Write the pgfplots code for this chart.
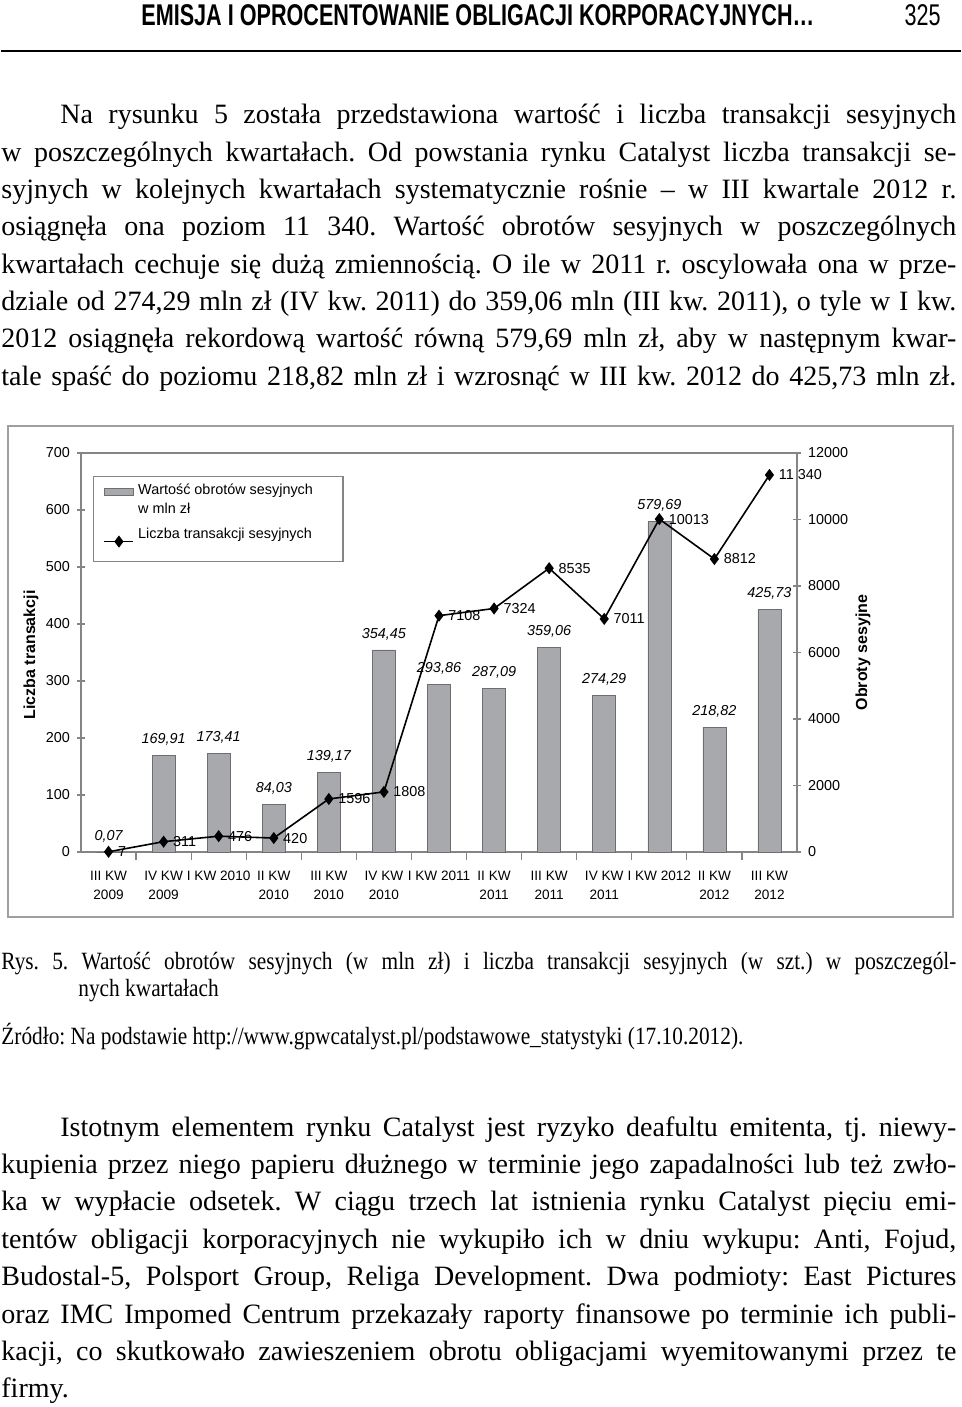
\documentclass[border=0pt]{standalone}
\usepackage{fontspec}
\setmainfont{Liberation Serif}
\setsansfont{Liberation Sans}
\newfontfamily\capfont[FakeStretch=0.86]{Liberation Serif}
\newfontfamily\headfont[FakeStretch=0.72]{Liberation Sans}
\usepackage{pgfplots}
\usepackage{pgfplotstable}
\pgfplotsset{compat=1.18}
\frenchspacing

\definecolor{barfill}{HTML}{A7A9AC}
\definecolor{baredge}{HTML}{6D6E71}
\definecolor{axisgray}{HTML}{858585}

\newcommand\chartfont{\sffamily\fontsize{7.2}{9.5}\selectfont}
\newcommand\xlabfont{\sffamily\fontsize{6.8}{9.5}\selectfont}
\newcommand\labfont{\sffamily\bfseries\fontsize{8}{9}\selectfont}
\newcommand\bodyfont{\rmfamily\fontsize{14}{16}\selectfont}
\newcommand\capsize{\capfont\fontsize{12.4}{14}\selectfont}
\newcommand\jline[4]{\node[anchor=base west, inner sep=0pt, font=\bodyfont] at (#1,#2) {\makebox[#3][s]{#4}};}

% wartosc obrotow sesyjnych, mln zl
\pgfplotstableread{
x obroty lab
0 0.07 0,07
1 169.91 169,91
2 173.41 173,41
3 84.03 84,03
4 139.17 139,17
5 354.45 354,45
6 293.86 293,86
7 287.09 287,09
8 359.06 359,06
9 274.29 274,29
10 579.69 579,69
11 218.82 218,82
12 425.73 425,73
}\obroty

% liczba transakcji sesyjnych
\pgfplotstableread{
x liczba lab
0 7 7
1 311 311
2 476 476
3 420 420
4 1596 1596
5 1808 1808
6 7108 7108
7 7324 7324
8 8535 8535
9 7011 7011
10 10013 10013
11 8812 8812
12 11340 11~340
}\liczba

\pgfplotsset{
  common/.style={
    at={(40pt,-426pt)}, anchor=south west,
    scale only axis, width=358pt, height=199.5pt,
    xmin=-0.5, xmax=12.5,
    tick align=center, major tick length=4pt, minor tick length=4pt,
    axis line style={axisgray, line width=0.6pt},
    every tick/.style={axisgray, line width=0.6pt},
    tick label style={font=\chartfont},
    /pgf/number format/assume math mode=true,
    /pgf/number format/1000 sep={},
    scaled y ticks=false,
    clip=false,
  },
  barlegimg/.style={legend image code/.code={\draw[##1] (0pt,2.6pt) rectangle (14.5pt,6.1pt);}},
  linelegimg/.style={legend image code/.code={\draw[mark repeat=2, mark phase=2, ##1] plot coordinates {(0pt,0pt) (7.25pt,0pt) (14.5pt,0pt)};}},
}

\begin{document}
\begin{tikzpicture}
\begin{scope}[x=0.5pt, y=-0.5pt]
  \path[fill=white] (0,0) rectangle (960,1407);
  % naglowek strony
  \node[anchor=base west, inner sep=0pt] at (140,26) {\headfont\bfseries\fontsize{15}{17}\selectfont EMISJA I OPROCENTOWANIE OBLIGACJI KORPORACYJNYCH…};
  \node[anchor=base east, inner sep=0pt] at (940,26) {\headfont\fontsize{15}{17}\selectfont 325};
  \draw[line width=1pt] (0,51) -- (960,51);
  % tekst nad wykresem
  \jline{59}{124}{448pt}{Na rysunku 5 została przedstawiona wartość i liczba transakcji sesyjnych}
  \jline{0}{161.3}{477.5pt}{w poszczególnych kwartałach. Od powstania rynku Catalyst liczba transakcji se-}
  \jline{0}{198.6}{477.5pt}{syjnych w kolejnych kwartałach systematycznie rośnie – w III kwartale 2012 r.}
  \jline{0}{235.9}{477.5pt}{osiągnęła ona poziom 11 340. Wartość obrotów sesyjnych w poszczególnych}
  \jline{0}{273.2}{477.5pt}{kwartałach cechuje się dużą zmiennością. O ile w 2011 r. oscylowała ona w prze-}
  \jline{0}{310.5}{477.5pt}{dziale od 274,29 mln zł (IV kw. 2011) do 359,06 mln (III kw. 2011), o tyle w I kw.}
  \jline{0}{347.8}{477.5pt}{2012 osiągnęła rekordową wartość równą 579,69 mln zł, aby w następnym kwar-}
  \jline{0}{385.1}{477.5pt}{tale spaść do poziomu 218,82 mln zł i wzrosnąć w III kw. 2012 do 425,73 mln zł.}
  % ramka wykresu
  \draw[color=gray!75, line width=0.9pt] (7,426) rectangle (952,917);
  % podpis
  \node[anchor=base west, inner sep=0pt] at (0,969) {\capsize\makebox[477.5pt][s]{Rys. 5. Wartość obrotów sesyjnych (w mln zł) i liczba transakcji sesyjnych (w szt.) w poszczegól-}};
  \node[anchor=base west, inner sep=0pt] at (77,996) {\capsize nych kwartałach};
  \node[anchor=base west, inner sep=0pt] at (0,1044) {\capsize Źródło: Na podstawie http://www.gpwcatalyst.pl/podstawowe\_statystyki (17.10.2012).};
  % tekst pod wykresem
  \jline{59}{1136}{448pt}{Istotnym elementem rynku Catalyst jest ryzyko deafultu emitenta, tj. niewy-}
  \jline{0}{1173.4}{477.5pt}{kupienia przez niego papieru dłużnego w terminie jego zapadalności lub też zwło-}
  \jline{0}{1210.8}{477.5pt}{ka w wypłacie odsetek. W ciągu trzech lat istnienia rynku Catalyst pięciu emi-}
  \jline{0}{1248.2}{477.5pt}{tentów obligacji korporacyjnych nie wykupiło ich w dniu wykupu: Anti, Fojud,}
  \jline{0}{1285.6}{477.5pt}{Budostal-5, Polsport Group, Religa Development. Dwa podmioty: East Pictures}
  \jline{0}{1323}{477.5pt}{oraz IMC Impomed Centrum przekazały raporty finansowe po terminie ich publi-}
  \jline{0}{1360.4}{477.5pt}{kacji, co skutkowało zawieszeniem obrotu obligacjami wyemitowanymi przez te}
  \node[anchor=base west, inner sep=0pt, font=\bodyfont] at (0,1397.8) {firmy.};
\end{scope}

\begin{axis}[common,
  ymin=0, ymax=700, ytick={0,100,...,700}, ytick pos=left,
  xtick={0,...,12}, xtick pos=left,
  xticklabels={{III KW\\2009},{IV KW\\2009},{I KW 2010},{II KW\\2010},{III KW\\2010},{IV KW\\2010},{I KW 2011},{II KW\\2011},{III KW\\2011},{IV KW\\2011},{I KW 2012},{II KW\\2012},{III KW\\2012}},
  x tick label style={align=center, yshift=-2pt, font=\xlabfont},
  major x tick style={draw=none},
  minor xtick={0.5,1.5,...,11.5},
  ybar, bar width=11.5pt,
  ylabel={Liczba transakcji},
  every axis y label/.style={at={(axis description cs:-0.0698,0.494)}, rotate=90, anchor=center, font=\labfont},
]
\addplot[ybar, fill=barfill, draw=baredge, line width=0.3pt,
  nodes near coords, point meta=explicit symbolic,
  every node near coord/.append style={font=\chartfont\itshape, yshift=1.5pt}]
  table[x=x, y=obroty, meta=lab] {\obroty};
\end{axis}

\begin{axis}[common,
  ymin=0, ymax=12000, ytick={0,2000,...,12000},
  axis x line=none, axis y line*=right,
  ylabel={Obroty sesyjne},
  every axis y label/.style={at={(axis description cs:1.092,0.50)}, rotate=90, anchor=center, font=\labfont},
  legend style={at={(axis description cs:0.0168,0.942)}, anchor=north west,
    draw=axisgray, line width=0.6pt, font=\chartfont, cells={anchor=west, align=left},
    inner xsep=5pt, inner ysep=1.5pt, row sep=2pt},
]
\addlegendimage{fill=barfill, draw=baredge, line width=0.3pt, barlegimg}
\addlegendentry{Wartość obrotów sesyjnych\hspace*{8pt}\\w mln zł}
\addplot[black, line width=0.8pt, mark=diamond*, mark size=2.4pt, linelegimg,
  nodes near coords, point meta=explicit symbolic,
  nodes near coords align={anchor=west},
  every node near coord/.append style={font=\chartfont, xshift=1pt}]
  table[x=x, y=liczba, meta=lab] {\liczba};
\addlegendentry[text depth=8pt]{Liczba transakcji sesyjnych}
\end{axis}
\end{tikzpicture}
\end{document}
